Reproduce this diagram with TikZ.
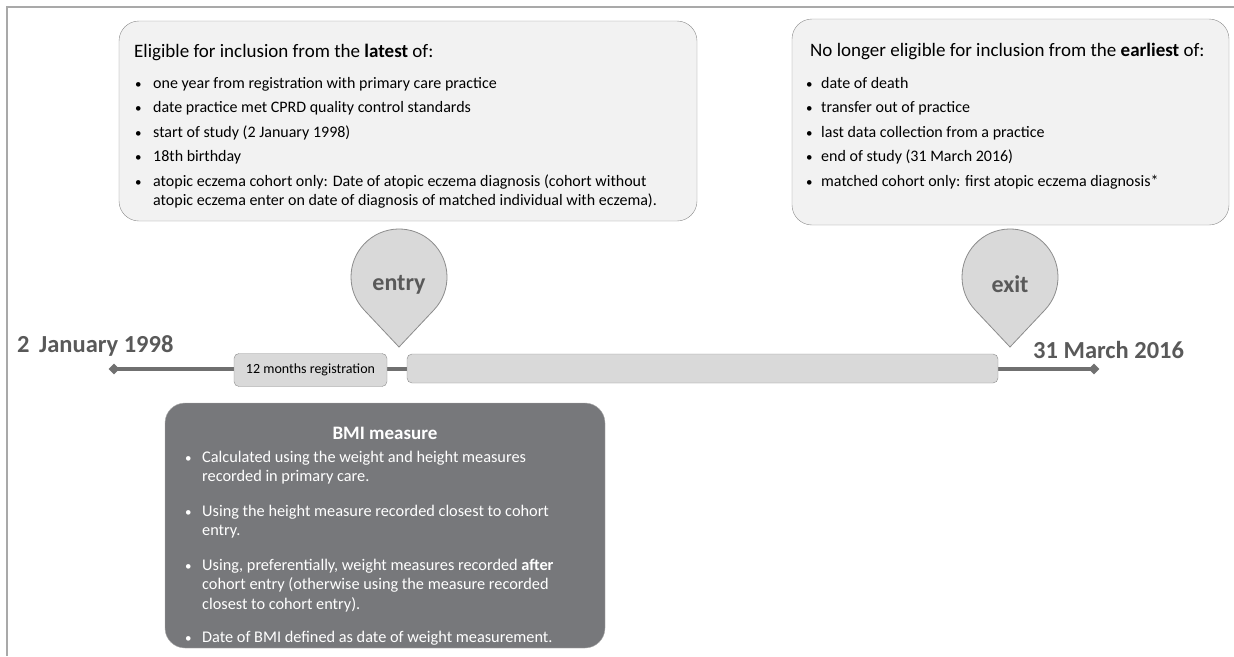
\documentclass[tikz,border=0pt]{standalone}
\usepackage{fontspec}
\setmainfont{Carlito}
\usetikzlibrary{positioning,shapes.geometric}
\definecolor{boxfill}{HTML}{F2F2F2}
\definecolor{boxline}{HTML}{8C8C8C}
\definecolor{pinfill}{HTML}{D9D9D9}
\definecolor{darktext}{HTML}{595959}
\definecolor{lineclr}{HTML}{707070}
\definecolor{bmifill}{HTML}{77787B}
\definecolor{framegray}{HTML}{A9A9A9}
\newcommand{\itemlines}[1]{\begin{tabular}[t]{@{}l@{}}#1\end{tabular}}
\tikzset{%
	infobox/.style  = {draw=boxline, fill=boxfill, rounded corners=20pt, inner sep=0pt},
	bmibox/.style   = {draw=boxline!70, fill=bmifill, rounded corners=20pt, inner sep=0pt},
	barbox/.style   = {draw=boxline, fill=pinfill, rounded corners=5pt, inner sep=0pt},
	tick/.style     = {diamond, fill=lineclr, minimum size=11pt, inner sep=0pt},
	timeline/.style = {draw=lineclr, line width=4pt},
	frame/.style    = {draw=framegray, line width=2.5pt},
	pinshape/.style = {draw=boxline, fill=pinfill, line width=0.8pt},
	pintext/.style  = {text=darktext, font=\fontsize{24}{28}\selectfont\bfseries},
	datetext/.style = {text=darktext, font=\fontsize{24.5}{28}\selectfont\bfseries, anchor=base west, inner sep=0pt},
	headtext/.style = {anchor=base west, inner sep=0pt, font=\fontsize{19}{22}\selectfont},
	itemtext/.style = {anchor=base west, inner sep=0pt, font=\fontsize{16}{19}\selectfont},
	bmitext/.style  = {itemtext, text=white, font=\fontsize{16.3}{19.5}\selectfont},
	dot/.style      = {anchor=base west, inner sep=0pt, font=\fontsize{13}{15}\selectfont},
	pics/dropmark/.style = {code={
		\draw[pinshape] (0,70) -- (43.3:48) arc[start angle=43.3, end angle=-223.3, radius=48] -- cycle;
	}},
}
\begin{document}
\begin{tikzpicture}[x=1pt,y=-1pt]
	\useasboundingbox (0,0) rectangle (1234,656);
	\draw[frame] (1234,7) -- (7,7) -- (7,656);
	
	% inclusion / exclusion boxes
	\node[infobox, minimum width=578, minimum height=200] (inbox) at (408,121) {};
	\node[headtext] (inhead) at (134,57) {Eligible for inclusion from the \textbf{latest} of:};
	\foreach \yy/\txt [count=\i] in {88/one year from registration with primary care practice,
		112.5/date practice met CPRD quality control standards,
		137/start of study (2 January 1998),
		161.5/18th birthday,
		186/{atopic eczema cohort only: Date of atopic eczema diagnosis (cohort without\\atopic eczema enter on date of diagnosis of matched individual with eczema).}}
	{
		\node[dot] (indot\i) at (135,\yy) {\textbullet};
		\node[itemtext] (initem\i) at (153,\yy) {\itemlines{\txt}};
	}
	
	\node[infobox, minimum width=437, minimum height=206] (outbox) at (1010.5,122) {};
	\node[headtext] (outhead) at (810,56) {No longer eligible for inclusion from the \textbf{earliest} of:};
	\foreach \yy/\txt [count=\i] in {88/date of death,
		112.5/transfer out of practice,
		137/last data collection from a practice,
		161.5/end of study (31 March 2016),
		186/matched cohort only: first atopic eczema diagnosis*}
	{
		\node[dot] (outdot\i) at (806,\yy) {\textbullet};
		\node[itemtext] (outitem\i) at (821,\yy) {\txt};
	}
	
	% timeline
	\node[tick] (tstart) at (114,369) {};
	\node[tick] (tend) at (1094,369) {};
	\draw[timeline] (tstart.center) -- (tend.center);
	\node[barbox, minimum width=153, minimum height=33, font=\fontsize{14}{16}\selectfont] (reg) at (310.5,370) {12 months registration};
	\node[barbox, minimum width=591, minimum height=29] (period) at (702.5,368.5) {};
	\node[datetext] (startdate) at (17,352) {2\, January 1998};
	\node[datetext] (enddate) at (1033,358) {31 March 2016};
	
	% entry and exit markers
	\pic at (399,277) {dropmark};
	\node[pintext] (entry) at (399,285) {entry};
	\pic at (1010,277) {dropmark};
	\node[pintext] (exit) at (1010,284) {exit};
	
	% BMI box
	\node[bmibox, minimum width=440, minimum height=245] (bmibox) at (385,525.5) {};
	\node[text=white, font=\fontsize{19}{22}\selectfont\bfseries] (bmihead) at (385,433) {BMI measure};
	\foreach \yy/\txt [count=\i] in {462/{Calculated using the weight and height measures\\recorded in primary care.},
		516/{Using the height measure recorded closest to cohort\\entry.},
		570/{Using, preferentially, weight measures recorded \textbf{after}\\cohort entry (otherwise using the measure recorded\\closest to cohort entry).},
		642/{Date of BMI defined as date of weight measurement.}}
	{
		\node[dot, text=white] (bmidot\i) at (185,\yy) {\textbullet};
		\node[bmitext] (bmiitem\i) at (202,\yy) {\itemlines{\txt}};
	}
\end{tikzpicture}
\end{document}
